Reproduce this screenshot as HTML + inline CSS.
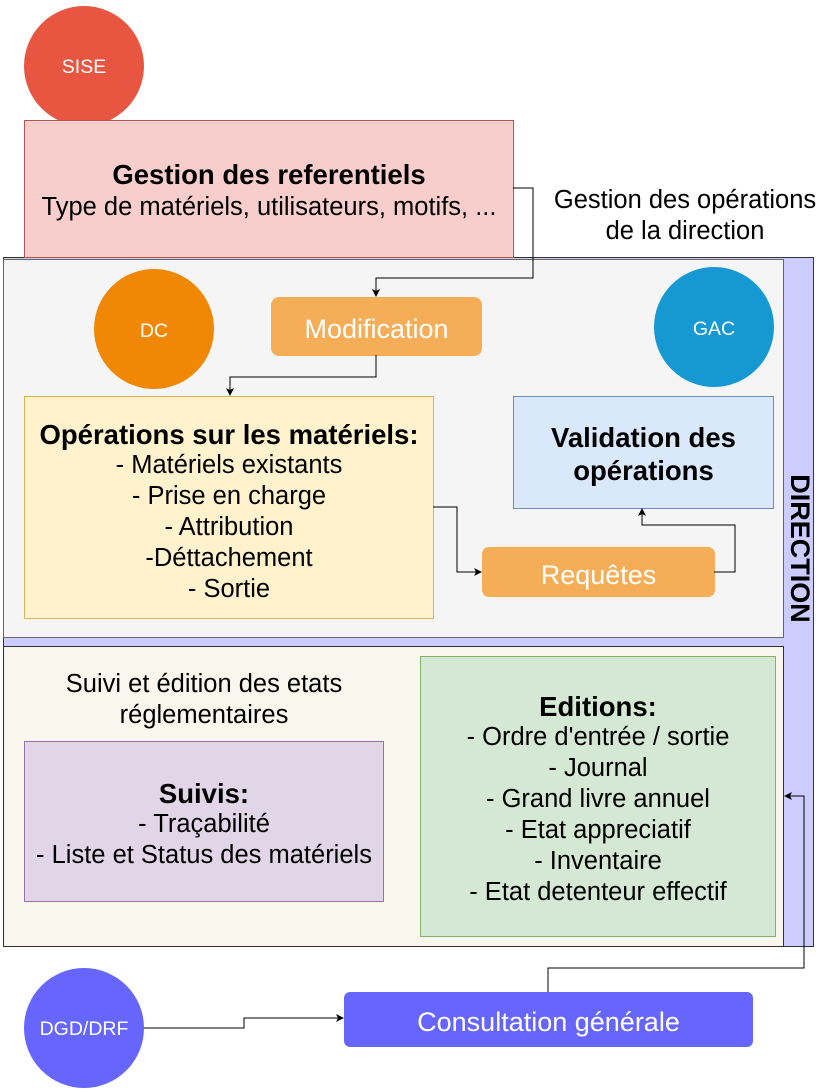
<!DOCTYPE html>
<html><head><meta charset="utf-8"><style>
body{margin:0;width:825px;height:1089px;background:#fff;position:relative;font-family:"Liberation Sans",sans-serif;overflow:hidden}
.a{position:absolute;box-sizing:border-box}
.c{display:flex;align-items:center;justify-content:center;text-align:center;flex-direction:column;white-space:nowrap}
.circ{border-radius:50%;color:#fff;font-size:19.5px}
b{font-size:27.5px}
</style></head><body>
<div class="a" style="left:3px;top:257px;width:811px;height:690px;background:#ccccff;border:1px solid #333"></div>
<div class="a" style="left:3px;top:259px;width:781px;height:379px;background:#f5f5f5;border:1px solid #666"></div>
<div class="a" style="left:3px;top:646px;width:781px;height:301px;background:#f9f7ed;border:1px solid #333"></div>
<div class="a" style="left:784px;top:448px;width:30px;height:200px;display:flex;align-items:center;justify-content:center"><div style="transform:rotate(90deg);font-weight:bold;font-size:27px;white-space:nowrap">DIRECTION</div></div>

<div class="a c circ" style="left:24px;top:6px;width:120px;height:120px;background:#e85642;padding-top:2px">SISE</div>
<div class="a c" style="left:24px;top:120px;width:490px;height:138px;background:#f8cecc;border:1px solid #b85450;font-size:25.5px;line-height:33px;padding-top:4px"><b>Gestion des referentiels</b>Type de matériels, utilisateurs, motifs, ...</div>
<div class="a c" style="left:540px;top:184px;width:290px;height:62px;font-size:25.5px;line-height:31px;padding-top:2px">Gestion des opérations<br>de la direction</div>

<div class="a c circ" style="left:94px;top:269px;width:120px;height:120px;background:#f08705;padding-top:4px">DC</div>
<div class="a c circ" style="left:654px;top:267px;width:120px;height:120px;background:#1699d3;padding-top:4px">GAC</div>
<div class="a c" style="left:271px;top:297px;width:211px;height:59px;background:#f5ae57;border-radius:8px;color:#fff;font-size:27px;padding-top:6px">Modification</div>
<div class="a c" style="left:24px;top:396px;width:410px;height:223px;background:#fff2cc;border:1px solid #d6b656;font-size:25.5px;line-height:31px;padding-top:8px"><b>Opérations sur les matériels:</b>- Matériels existants<br>- Prise en charge<br>- Attribution<br>-Déttachement<br>- Sortie</div>
<div class="a c" style="left:513px;top:396px;width:261px;height:113px;background:#dae8fc;border:1px solid #6c8ebf;font-size:27.5px;font-weight:bold;line-height:33px;padding-top:2px">Validation des<br>opérations</div>
<div class="a c" style="left:482px;top:547px;width:233px;height:50px;background:#f5ae57;border-radius:7px;color:#fff;font-size:27px;padding-top:6px">Requêtes</div>

<div class="a c" style="left:14px;top:666px;width:380px;height:64px;font-size:25.5px;line-height:31px;padding-top:3px">Suivi et édition des etats<br>réglementaires</div>
<div class="a c" style="left:24px;top:741px;width:360px;height:161px;background:#e1d5e7;border:1px solid #9673a6;font-size:25.5px;line-height:31px;padding-top:6px"><b>Suivis:</b>- Traçabilité<br>- Liste et Status des matériels</div>
<div class="a c" style="left:420px;top:656px;width:356px;height:281px;background:#d5e8d4;border:1px solid #82b366;font-size:25.5px;line-height:31px;padding-top:6px"><b>Editions:</b>- Ordre d'entrée / sortie<br>- Journal<br>- Grand livre annuel<br>- Etat appreciatif<br>- Inventaire<br>- Etat detenteur effectif</div>

<div class="a c circ" style="left:24px;top:968px;width:120px;height:120px;background:#6666ff;padding-top:2px">DGD/DRF</div>
<div class="a c" style="left:344px;top:992px;width:409px;height:55px;background:#6666ff;border-radius:6px;color:#fff;font-size:27px;padding-top:6px">Consultation générale</div>

<svg class="a" style="left:0;top:0" width="825" height="1089">
<defs><marker id="m" markerWidth="8" markerHeight="8" refX="7" refY="4" orient="auto" markerUnits="userSpaceOnUse"><path d="M0,0L8,4L0,8L2,4z" fill="#000"/></marker></defs>
<g fill="none" stroke="#000" stroke-width="1">
<path d="M513,188H533V278H376V296" marker-end="url(#m)"/>
<path d="M376,355V377H230V395" marker-end="url(#m)"/>
<path d="M433,507H457V572H481" marker-end="url(#m)"/>
<path d="M714,572H735V525H642V509" marker-end="url(#m)"/>
<path d="M548,992V968H804V796H785" marker-end="url(#m)"/>
<path d="M144,1028H244V1018H343" marker-end="url(#m)"/>
</g></svg>
</body></html>
